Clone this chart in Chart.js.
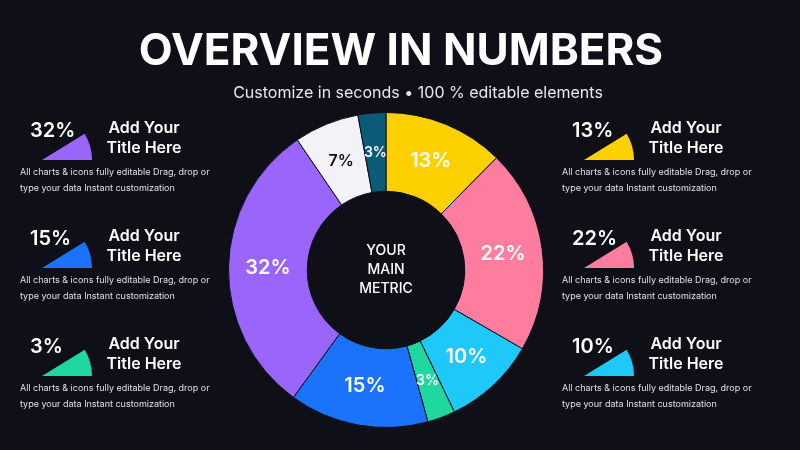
<!DOCTYPE html>
<html><head><meta charset="utf-8">
<script src="https://cdn.jsdelivr.net/npm/chart.js@4"></script>
<style>html,body{margin:0;background:#0e0f17;}#wrap{width:800px;height:450px;position:relative}</style>
</head><body><div id="wrap"><canvas id="donut" width="800" height="450"></canvas></div>
<script>
const labels = ["A", "B", "C", "D", "E", "F", "G", "H"];
const values = [13, 22, 10, 3, 15, 32, 7, 3];
const colors = ["#fdd000", "#fd7d9f", "#1ec8f8", "#1fd8a0", "#1a73fa", "#9a65fb", "#f4f2f6", "#0b5b78"];
const textColors = ["#fff", "#fff", "#fff", "#fff", "#fff", "#fff", "#111", "#fff"];

// side panels: [value, color, side, row]
const panels = [
  [32, "#9a65fb", 0, 0], [15, "#1a73fa", 0, 1], [3, "#1fd8a0", 0, 2],
  [13, "#fdd000", 1, 0], [22, "#fd7d9f", 1, 1], [10, "#1ec8f8", 1, 2]
];

const FONT = "Inter, 'Noto Sans', sans-serif";

const decor = {
  id: "decor",
  afterDatasetsDraw(chart) {
    const ctx = chart.ctx;
    const meta = chart.getDatasetMeta(0);
    ctx.save();
    ctx.textAlign = "center";
    ctx.textBaseline = "middle";
    meta.data.forEach((arc, i) => {
      const p = arc.tooltipPosition();
      ctx.fillStyle = textColors[i];
      const sz = values[i] < 5 ? 14 : values[i] < 10 ? 16 : 20;
      ctx.font = "600 " + sz + "px " + FONT;
      ctx.fillText(values[i] + "%", p.x, p.y);
    });
    // centre text
    ctx.fillStyle = "#fff";
    ctx.font = "500 14px " + FONT;
    ["YOUR", "MAIN", "METRIC"].forEach((t, k) => ctx.fillText(t, 386, 251 + k * 19));
    // title
    ctx.font = "700 44px " + FONT;
    ctx.fillText("OVERVIEW IN NUMBERS", 401, 52);
    ctx.font = "400 16px " + FONT;
    ctx.fillStyle = "#e8e8ee";
    ctx.fillText("Customize in seconds \u2022 100 % editable elements", 418, 93);
    // panels
    panels.forEach(([v, c, side, row]) => {
      const x0 = side ? 560 : 18, y0 = 108 * row;
      ctx.fillStyle = c;
      ctx.beginPath();
      const ax = x0 + 24, ay = y0 + 160;
      ctx.moveTo(ax, ay);
      ctx.arc(ax, ay, 50, -0.55, 0);
      ctx.closePath();
      ctx.fill();
      ctx.fillStyle = "#fff";
      ctx.textAlign = "left";
      ctx.font = "600 20px " + FONT;
      ctx.fillText(v + "%", x0 + 12, y0 + 131);
      ctx.textAlign = "center";
      ctx.font = "600 16px " + FONT;
      ctx.fillText("Add Your", x0 + 126, y0 + 128);
      ctx.fillText("Title Here", x0 + 126, y0 + 148);
      ctx.textAlign = "left";
      ctx.font = "400 9px " + FONT;
      ctx.fillStyle = "#e0e0e6";
      ctx.fillText("All charts & icons fully editable Drag, drop or", x0 + 2, y0 + 172);
      ctx.fillText("type your data Instant customization", x0 + 2, y0 + 188);
      ctx.textAlign = "center";
    });
    ctx.restore();
  }
};

new Chart(document.getElementById("donut"), {
  type: "doughnut",
  data: { labels: labels, datasets: [{ data: values, backgroundColor: colors, borderColor: "#0e0f17", borderWidth: 1 }] },
  options: {
    responsive: false, animation: false, cutout: "50%",
    layout: { padding: { left: 228, right: 256, top: 112, bottom: 22 } },
    plugins: { legend: { display: false }, tooltip: { enabled: false } }
  },
  plugins: [decor]
});
</script>
</body></html>
